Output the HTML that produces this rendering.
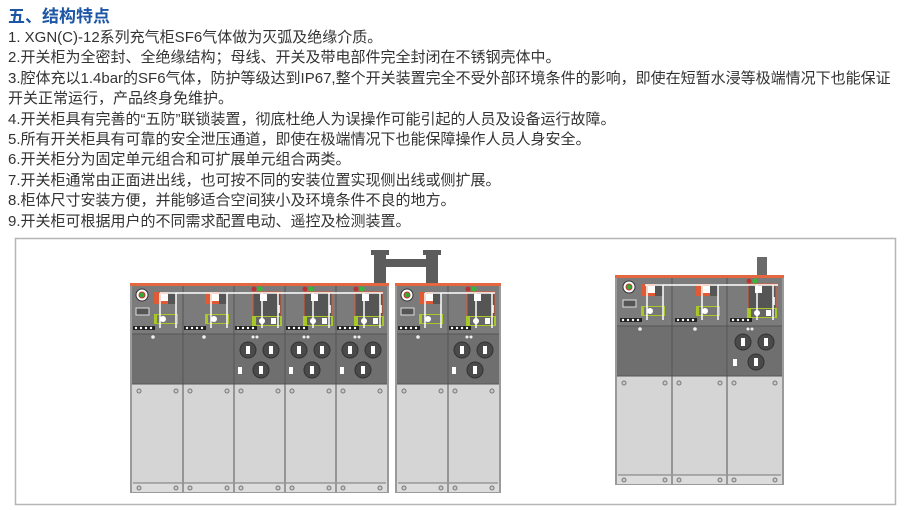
<!DOCTYPE html>
<html><head><meta charset="utf-8"><style>
body{margin:0;background:#fff;width:910px;height:510px;overflow:hidden;position:relative;font-family:"Liberation Sans","Noto Sans CJK SC",sans-serif}
.t{position:absolute;left:8px;top:2px;font-size:17px;font-weight:bold;color:#1d56a5}
.tx{position:absolute;left:8px;top:28px;font-size:15px;line-height:20.4px;color:#333;white-space:nowrap}
svg{position:absolute;left:0;top:0}
</style></head><body>
<div class="t">五、结构特点</div>
<div class="tx">1. XGN(C)-12系列充气柜SF6气体做为灭弧及绝缘介质。<br>2.开关柜为全密封、全绝缘结构；母线、开关及带电部件完全封闭在不锈钢壳体中。<br>3.腔体充以1.4bar的SF6气体，防护等级达到IP67,整个开关装置完全不受外部环境条件的影响，即使在短暂水浸等极端情况下也能保证<br>开关正常运行，产品终身免维护。<br>4.开关柜具有完善的“五防”联锁装置，彻底杜绝人为误操作可能引起的人员及设备运行故障。<br>5.所有开关柜具有可靠的安全泄压通道，即使在极端情况下也能保障操作人员人身安全。<br>6.开关柜分为固定单元组合和可扩展单元组合两类。<br>7.开关柜通常由正面进出线，也可按不同的安装位置实现侧出线或侧扩展。<br>8.柜体尺寸安装方便，并能够适合空间狭小及环境条件不良的地方。<br>9.开关柜可根据用户的不同需求配置电动、遥控及检测装置。</div>
<svg id="s" width="910" height="510" xmlns="http://www.w3.org/2000/svg">
<rect x="15.5" y="238.5" width="880" height="266" fill="none" stroke="#b5b5b5" stroke-width="1.5"/>
<rect x="374" y="250" width="12" height="34" fill="#5c5c5c"/>
<rect x="426" y="250" width="12" height="34" fill="#5c5c5c"/>
<rect x="371" y="250" width="18" height="5" fill="#5c5c5c"/>
<rect x="423" y="250" width="18" height="5" fill="#5c5c5c"/>
<rect x="386" y="259" width="40" height="8" fill="#5c5c5c"/>
<rect x="757" y="257" width="10" height="19" fill="#6a6a6a"/>
</svg>
<script>
var s=document.getElementById('s'),h='';
function R(x,y,w,hh,f,st){h+='<rect x="'+x+'" y="'+y+'" width="'+w+'" height="'+hh+'" fill="'+f+'"'+(st?' stroke="'+st+'" stroke-width="1"':'')+'/>';}
function C(x,y,r,f,st){h+='<circle cx="'+x+'" cy="'+y+'" r="'+r+'" fill="'+f+'"'+(st?' stroke="'+st+'" stroke-width="1"':'')+'/>';}
function L(a,b,c,d,col,w){h+='<line x1="'+a+'" y1="'+b+'" x2="'+c+'" y2="'+d+'" stroke="'+col+'" stroke-width="'+w+'"/>';}
function group(x0,yt,types,w){
 var n=types.length,W=n*w;
 R(x0-2,yt,W+4,210,'#9a9a9a');
 R(x0,yt+3,W,48,'#7b7b7b');
 R(x0,yt+51,W,50,'#6f6f6f');
 R(x0,yt+101,W,99,'#d5d5d5');
 R(x0,yt+200,W,9,'#dcdcdc');
 R(x0-2,yt,W+4,3,'#e4683f');
 for(var i=0;i<n;i++){
  var x=x0+i*w,t=types[i],d=w-51;
  if(i>0){L(x,yt+3,x,yt+209,'#555',1);}
  L(x,yt+101,x+w,yt+101,'#555',1);
  L(x,yt+51,x+w,yt+51,'#555',1);
  L(x+1,yt+200,x+w-1,yt+200,'#777',1);
  C(x+7,yt+108,2,'#ccc','#777');C(x+w-7,yt+108,2,'#ccc','#777');
  C(x+7,yt+205,2,'#ccc','#777');C(x+w-7,yt+205,2,'#ccc','#777');
  x+=d/2;
  if(t[1]=='c'){C(x+10,yt+12,6,'#fff','#333');C(x+10,yt+12,3,'#3a3','#c33');R(x+4,yt+25,13,7,'#555','#ddd');}
  if(t[0]=='L'){
   R(x+22,yt+9,20,12,'#e05a35');R(x+29,yt+11,7,7,'#fff');R(x+36,yt+9,8,12,'#555');
   R(x+22,yt+31,24,10,'#a8c82a');R(x+25,yt+32,20,8,'#777');C(x+31,yt+36,3,'#fff');
   C(x+21,yt+54,1.8,'#eee');
  }else{
   C(x+20,yt+6,2.5,'#b33');C(x+26,yt+6,2.5,'#3b3');
   R(x+19,yt+9,28,26,'#555','#e05a35');R(x+26,yt+11,7,7,'#fff');R(x+44,yt+22,2,8,'#ddd');
   R(x+18,yt+33,30,10,'#a8c82a');R(x+22,yt+34,24,8,'#666');C(x+28,yt+38,3,'#fff');R(x+37,yt+35,5,6,'#fff');
   C(x+19,yt+54,1.5,'#eee');C(x+23,yt+54,1.5,'#eee');
   [[14,67],[37,67],[27,87]].forEach(function(p){C(x+p[0],yt+p[1],8,'#4a4a4a','#333');R(x+p[0]-2,yt+p[1]-4,4,8,'#fff');});
   R(x+4,yt+84,4,7,'#fff');
  }
  R(x+1,yt+43,22,4,'#222');
  for(var k=0;k<4;k++)C(x+4+k*5,yt+45,1.2,'#fff');
  L(x+28,yt+10,x+28,yt+45,'#fff',1.5);L(x+44,yt+10,x+44,yt+45,'#fff',1.5);
 }
 L(x0+28,yt+10,x0+W-4,yt+10,'#fff',1.5);
}
group(132,283,['Lc','L','F','F','F'],51);
group(397,283,['Lc','F'],51);
group(617,275,['Lc','L','F'],55);
s.insertAdjacentHTML('beforeend',h);
</script>
</body></html>
